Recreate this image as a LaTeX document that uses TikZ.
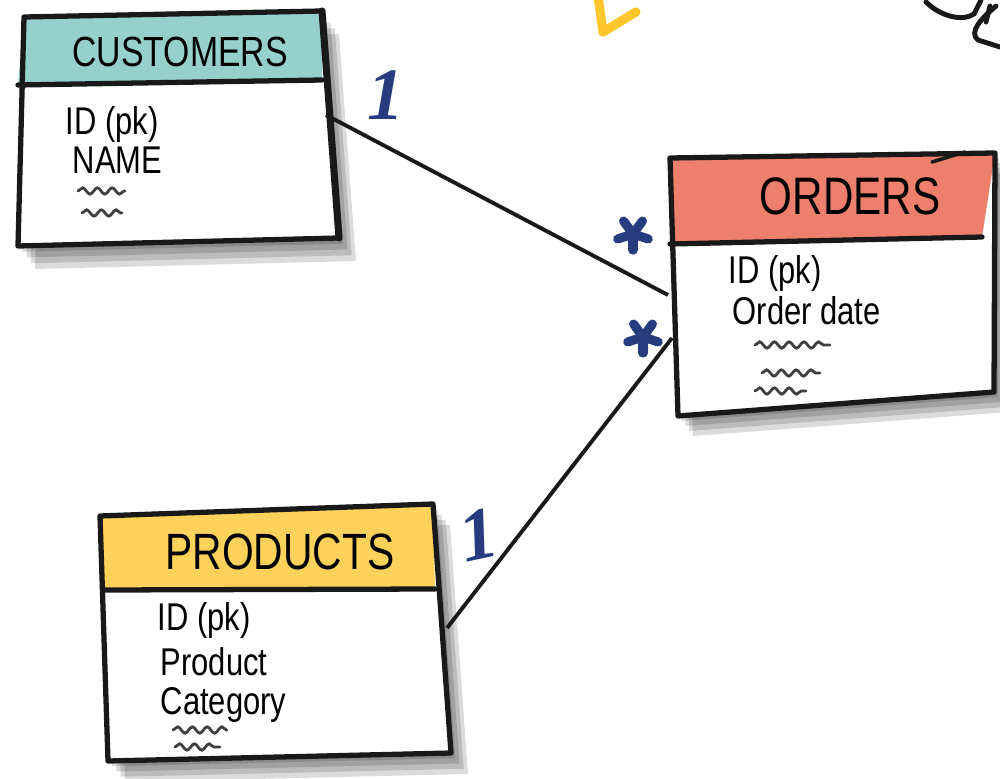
\documentclass[tikz,border=0pt]{standalone}
\usepackage{fontspec}
\setmainfont{Liberation Sans}
\newfontfamily\hand[FakeStretch=0.8]{Liberation Sans}
\newfontfamily\digits{Liberation Serif}
\usetikzlibrary{decorations.pathmorphing}
\definecolor{tealhdr}{HTML}{96D0CD}
\definecolor{salmonhdr}{HTML}{EE7F6C}
\definecolor{yellowhdr}{HTML}{FDD25A}
\definecolor{inkblue}{HTML}{263C7E}
\definecolor{arrowyellow}{HTML}{FFC72C}
\tikzset{
  border/.style={line width=1.5pt, line cap=round, line join=round, black!90},
  link/.style={line width=1.1pt, black!90},
  title/.style={font=\hand\fontsize{#1}{#1}\selectfont, inner sep=0pt},
  item/.style={font=\hand\fontsize{11}{11}\selectfont, anchor=west, inner sep=0pt},
  card/.style={text=inkblue, font=\digits\fontsize{21}{21}\selectfont\bfseries\itshape, inner sep=0pt},
  squig/.style={black!75, line width=.8pt, line cap=round, decorate, decoration={snake, amplitude=.9pt, segment length=4.2pt}},
  starline/.style={inkblue, line width=2.6pt, line cap=round},
  doodle/.style={line width=1.4pt, line cap=round, black!90},
}
\begin{document}
\begin{tikzpicture}[x=0.01cm, y=-0.01cm]
  % Cadre de l'image
  \useasboundingbox (0,0) rectangle (1000,779);

  % Coins des tables
  \coordinate (cust-nw) at (24,17);
  \coordinate (cust-ne) at (322,11);
  \coordinate (cust-se) at (339,238);
  \coordinate (cust-sw) at (18,246);
  \coordinate (cust-hw) at (18,85); % ligne d'en-tete
  \coordinate (cust-he) at (322,80);

  \coordinate (ord-nw) at (670,158);
  \coordinate (ord-ne) at (995,153);
  \coordinate (ord-se) at (994,392);
  \coordinate (ord-sw) at (678,416);
  \coordinate (ord-hw) at (670,244);
  \coordinate (ord-he) at (982,237);

  \coordinate (prod-nw) at (100,516);
  \coordinate (prod-ne) at (433,504);
  \coordinate (prod-se) at (451,753);
  \coordinate (prod-sw) at (108,761);
  \coordinate (prod-hw) at (103,590);
  \coordinate (prod-he) at (435,589);

  % Points d'attache des liens
  \coordinate (cust-r) at (326,115);
  \coordinate (ord-l1) at (668,295);
  \coordinate (ord-l2) at (672,338);
  \coordinate (prod-r) at (447,628);
  \coordinate (star1) at (633,234);
  \coordinate (star2) at (643,337);

  % Ombres
  \foreach \t/\dx/\dy in {cust/17/23, ord/15/20, prod/17/21}
    \foreach \k in {1,...,4}
      \fill[black, opacity=.14]
        ([shift={(\k*\dx/4,\k*\dy/4)}]\t-nw) -- ([shift={(\k*\dx/4,\k*\dy/4)}]\t-ne)
        -- ([shift={(\k*\dx/4,\k*\dy/4)}]\t-se) -- ([shift={(\k*\dx/4,\k*\dy/4)}]\t-sw) -- cycle;

  % Fond blanc et en-tetes
  \foreach \t/\c in {cust/tealhdr, ord/salmonhdr, prod/yellowhdr} {
    \fill[white] (\t-nw) -- (\t-ne) -- (\t-se) -- (\t-sw) -- cycle;
    \fill[\c] (\t-nw) -- (\t-ne) -- (\t-he) -- (\t-hw) -- cycle;
  }

  % Bords des tables
  \foreach \t in {cust, ord, prod} {
    \draw[border] (\t-nw) -- (\t-ne) -- (\t-se) -- (\t-sw) -- cycle;
    \draw[border] (\t-hw) -- (\t-he);
  }
  \draw[border, line width=2pt] (cust-ne) -- (cust-se); % trait plus epais
  \draw[border, line width=1pt] (932,162) -- (965,152);

  % Titres
  \node[title=12] (cust-title) at (180,52) {CUSTOMERS};
  \node[title=15] (ord-title) at (850,196) {ORDERS};
  \node[title=14.5] (prod-title) at (280,552) {PRODUCTS};

  % Champs
  \node[item] (cust-id) at (65,125) {ID (pk)};
  \node[item] (cust-name) at (72,160) {NAME};
  \node[item] (ord-id) at (728,273) {ID (pk)};
  \node[item] (ord-date) at (732,311) {Order date};
  \node[item] (prod-id) at (157,620) {ID (pk)};
  \node[item] (prod-name) at (160,662) {Product};
  \node[item] (prod-cat) at (160,705) {Category};

  % Gribouillis
  \foreach \xa/\xb/\y in {78/125/191, 82/122/213, 755/830/345, 762/820/373,
                          755/806/391, 173/227/730, 175/220/747}
    \draw[squig] (\xa,\y) -- (\xb,\y);

  % Liens
  \draw[link] (cust-r) -- (ord-l1);
  \draw[link] (ord-l2) -- (prod-r);

  % Cardinalites
  \node[card] (one-cust) at (386,95) {1};
  \node[card, rotate=12] (one-prod) at (478,535) {1};
  \foreach \s in {star1, star2}
    \foreach \a in {90,162,234,306,378}
      \draw[starline] (\s) -- ++(\a:16);

  % Fleche jaune et gribouillis du haut
  \draw[line width=2.6pt, line cap=round, line join=round, arrowyellow]
    (598,-4) -- (603,32) -- (636,12);
  \draw[doodle] (926,2) .. controls (940,16) and (962,22) .. (974,14) -- (981,0);
  \draw[doodle] (996,6) .. controls (982,18) and (968,32) .. (978,40) -- (1000,47);
  \draw[doodle] (990,6) -- (986,22);
\end{tikzpicture}
\end{document}
